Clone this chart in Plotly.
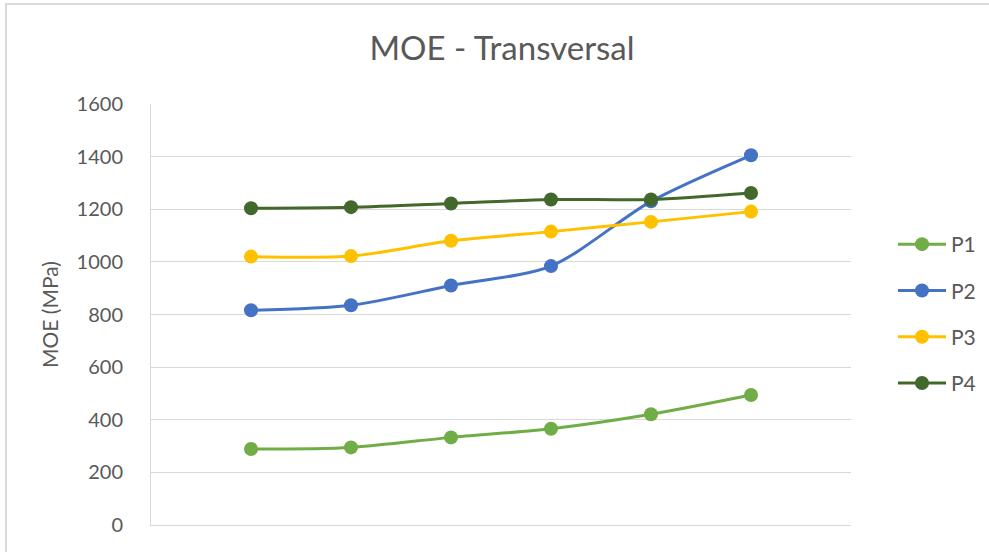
import plotly.graph_objects as go

# Sample positions along the transversal direction (no labels shown on the axis)
positions = [1, 2, 3, 4, 5, 6]

# MOE values in MPa for each panel
p1 = [289, 295, 333, 366, 421, 494]
p2 = [816, 835, 910, 984, 1230, 1405]
p3 = [1020, 1022, 1080, 1115, 1152, 1191]
p4 = [1204, 1208, 1222, 1237, 1237, 1262]

series_names = ["P1", "P2", "P3", "P4"]
series_values = [p1, p2, p3, p4]
series_colors = ["#70AD47", "#4472C4", "#FFC000", "#43682B"]

y_ticks = [0, 200, 400, 600, 800, 1000, 1200, 1400, 1600]

FONT = "Lato"
GRAY = "#595959"
GRID = "#D9D9D9"

fig = go.Figure()
for name, vals, color in zip(series_names, series_values, series_colors):
    fig.add_trace(go.Scatter(
        x=positions, y=vals, name=name, legendgroup=name,
        mode="lines+markers",
        line=dict(color=color, width=3, shape="spline", smoothing=0.8),
        marker=dict(color=color, size=14),
    ))

# Plot area: x 151..851 px, y 104..525 px in a 989x552 page
L, R, T, B = 151, 138, 104, 27
W, H = 989, 552
pw, ph = W - L - R, H - T - B

def px_to_paper_x(px):
    return (px - L) / pw

def py_to_paper_y(py):
    return (H - B - py) / ph

fig.update_layout(
    width=W, height=H,
    margin=dict(l=L, r=R, t=T, b=B, autoexpand=False),
    paper_bgcolor="white", plot_bgcolor="white",
    font=dict(family=FONT, color=GRAY, size=20),
    title=dict(text="MOE - Transversal", x=502 / W, xref="container", xanchor="center",
               y=1 - 48 / H, yref="container", yanchor="middle",
               font=dict(family=FONT, size=33, color=GRAY)),
    xaxis=dict(range=[0, 7], showticklabels=False, showgrid=False, zeroline=False,
               showline=True, linecolor=GRID, linewidth=1, ticks=""),
    yaxis=dict(range=[0, 1600], tickvals=y_ticks, showgrid=True, gridcolor=GRID, gridwidth=1,
               zeroline=False, showline=True, linecolor=GRID, linewidth=1, ticks="",
               ticklabelstandoff=23, tickfont=dict(size=20, color=GRAY),
               title=dict(text="MOE (MPa)", standoff=12, font=dict(size=21, color=GRAY))),
    legend=dict(x=px_to_paper_x(893), xanchor="left", y=py_to_paper_y(314), yanchor="middle",
                font=dict(size=21, color=GRAY), tracegroupgap=16, traceorder="grouped",
                itemwidth=48, bgcolor="rgba(0,0,0,0)"),
    showlegend=True,
    shapes=[dict(type="rect", xref="paper", yref="paper",
                 x0=px_to_paper_x(6), x1=px_to_paper_x(1010),
                 y0=py_to_paper_y(570), y1=py_to_paper_y(4),
                 line=dict(color=GRID, width=2), fillcolor="rgba(0,0,0,0)", layer="below")],
)

fig.write_html("out.html")
